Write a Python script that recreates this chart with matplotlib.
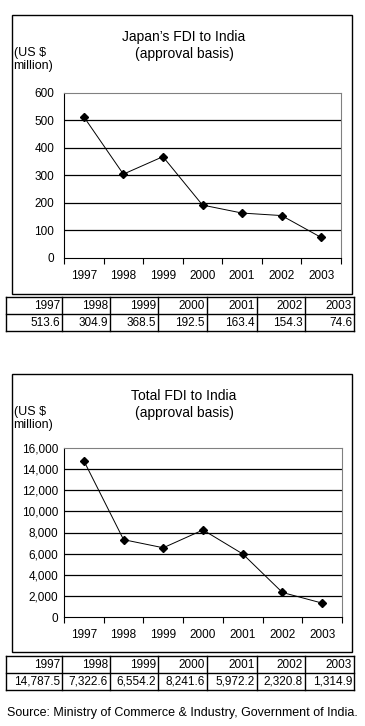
import matplotlib
matplotlib.use("Agg")
import matplotlib.pyplot as plt
from matplotlib.lines import Line2D
from matplotlib.patches import Rectangle

plt.rcParams['font.family'] = ['Liberation Sans', 'DejaVu Sans']

# data
years = ["1997", "1998", "1999", "2000", "2001", "2002", "2003"]
japan_fdi = [513.6, 304.9, 368.5, 192.5, 163.4, 154.3, 74.6]
total_fdi = [14787.5, 7322.6, 6554.2, 8241.6, 5972.2, 2320.8, 1314.9]
japan_labels = ["513.6", "304.9", "368.5", "192.5", "163.4", "154.3", "74.6"]
total_labels = ["14,787.5", "7,322.6", "6,554.2", "8,241.6", "5,972.2", "2,320.8", "1,314.9"]
japan_ticks = [0, 100, 200, 300, 400, 500, 600]
total_ticks = [0, 2000, 4000, 6000, 8000, 10000, 12000, 14000, 16000]

W, H = 365, 726
fig = plt.figure(figsize=(W / 100, H / 100), dpi=100)

# overlay in pixel coords for boxes, tables and texts
ov = fig.add_axes([0, 0, 1, 1])
ov.set_xlim(0, W)
ov.set_ylim(H, 0)
ov.axis("off")


def draw_chart(top, plot_box, values, ticks, ticklabels, title, ypad):
    """one chart: outer box, plot area, titles"""
    box_top, box_bot = top
    ov.add_patch(Rectangle((12, box_top), 340, box_bot - box_top, fill=False,
                           edgecolor="black", lw=1.0))
    l, t, r, b = plot_box
    ax = fig.add_axes([l / W, 1 - b / H, (r - l) / W, (b - t) / H])
    ax.set_zorder(2)
    x = list(range(len(values)))
    ax.plot(x, values, color="black", lw=0.7, marker="D", markersize=4.5,
            markerfacecolor="black", markeredgecolor="black")
    ax.set_xlim(-0.5, len(values) - 0.5)
    ax.set_ylim(ticks[0], ticks[-1])
    ax.set_yticks(ticks)
    ax.set_yticklabels(ticklabels, fontsize=8.5)
    for v in ticks[1:-1]:
        ax.axhline(v, color="black", lw=0.9, zorder=1)
    ax.set_xticks([i - 0.5 for i in range(len(values) + 1)])
    ax.set_xticklabels([])
    ax.set_xticks(x, minor=True)
    ax.set_xticklabels(years, minor=True, fontsize=8.5)
    ax.tick_params(axis="x", which="major", length=4, direction="out", width=0.8)
    ax.tick_params(axis="x", which="minor", length=0, pad=9)
    ax.tick_params(axis="y", length=0, pad=ypad)
    ax.spines["top"].set_color("#808080")
    ax.spines["right"].set_color("#808080")
    ax.spines["left"].set_color("black")
    ax.spines["bottom"].set_color("black")
    for s in ax.spines.values():
        s.set_linewidth(0.8)
    ov.text(184, box_top + 22, title, ha="center", va="center", fontsize=10)
    ov.text(184, box_top + 39, "(approval basis)", ha="center", va="center", fontsize=10)
    ov.text(14, box_top + 38, "(US $", ha="left", va="center", fontsize=9)
    ov.text(13, box_top + 51, "million)", ha="left", va="center", fontsize=9)
    return ax


def draw_table(y0, y1, y2, labels):
    cols = [6, 62, 110, 158, 207, 257, 305, 354]
    ov.add_line(Line2D([cols[0], cols[-1]], [y0, y0], color="black", lw=1.0))
    ov.add_line(Line2D([cols[0], cols[-1]], [y1, y1], color="black", lw=1.0))
    ov.add_line(Line2D([cols[0], cols[-1]], [y2, y2], color="black", lw=1.0))
    for c in cols:
        ov.add_line(Line2D([c, c], [y0, y2], color="black", lw=1.0))
    for i in range(len(years)):
        ov.text(cols[i + 1] - 2, (y0 + y1) / 2 + 0.5, years[i], ha="right",
                va="center", fontsize=8.5)
        ov.text(cols[i + 1] - 2, (y1 + y2) / 2 + 0.5, labels[i], ha="right",
                va="center", fontsize=8.5)


draw_chart((15, 294), (64, 93, 341, 258), japan_fdi, japan_ticks,
           [str(v) for v in japan_ticks], "Japan’s FDI to India", 7)
draw_table(297, 314, 331, japan_labels)

draw_chart((374, 652), (64, 448, 342, 617), total_fdi, total_ticks,
           [f"{v:,}" for v in total_ticks], "Total FDI to India", 4)
draw_table(656, 673, 690, total_labels)

ov.text(182, 713, "Source: Ministry of Commerce & Industry, Government of India.",
        ha="center", va="center", fontsize=9)

fig.savefig("out.png", dpi=100)
